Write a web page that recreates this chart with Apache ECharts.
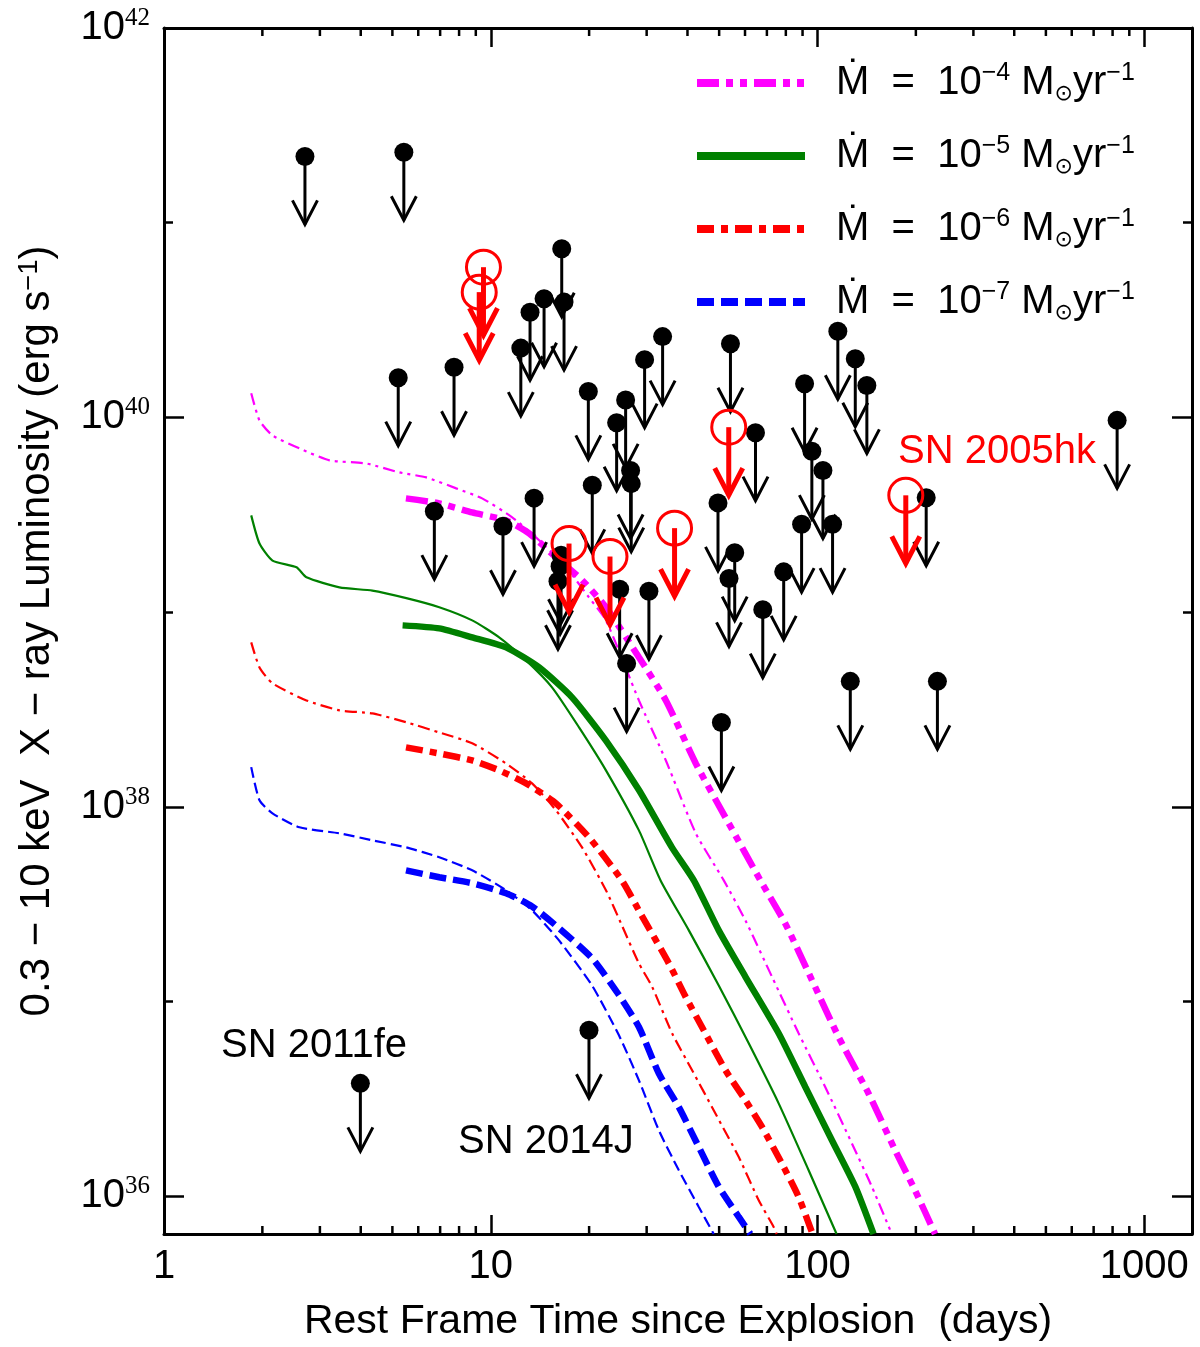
<!DOCTYPE html>
<html><head><meta charset="utf-8">
<script src="https://cdn.jsdelivr.net/npm/echarts@6/dist/echarts.min.js"></script>
<style>html,body{margin:0;padding:0;background:#fff}#c{width:1200px;height:1347px}</style>
</head><body><div id="c"></div>
<script>
// ---------------- data ----------------
const xRange = [1, 1400];
const yRange = [6.4e35, 1e42];
const xTickLabels = ['1', '10', '100', '1000'];
const xMinorTicks = [2, 3, 4, 5, 6, 7, 8, 9, 20, 30, 40, 50, 60, 70, 80, 90, 200, 300, 400, 500, 600, 700, 800, 900];
const yTickExponents = [36, 38, 40, 42];
const rateExponents = ['−4', '−5', '−6', '−7'];

// black upper limits (days, erg/s)
const limitDays = [2.70, 5.42, 5.21, 7.72, 6.72, 10.9, 13.57, 12.36, 13.19, 14.56, 16.49, 16.76, 19.89, 20.45, 24.28, 25.87, 26.79, 26.91, 29.57, 33.57, 16.41, 16.30, 16.06, 24.8, 30.48, 26.05, 54.15, 115.4, 130.5, 141.6, 91.3, 64.6, 96.1, 103.9, 49.6, 89.4, 111.2, 215.1, 55.8, 53.6, 78.8, 68.0, 126, 232.8, 50.8, 826, 3.99, 19.98];
const limitLum = [2.19e41, 2.30e41, 1.60e40, 1.81e40, 3.30e39, 2.76e39, 3.85e39, 2.27e40, 3.47e40, 4.07e40, 7.35e40, 3.91e40, 1.36e40, 4.48e39, 9.39e39, 1.23e40, 5.34e39, 4.57e39, 1.98e40, 2.60e40, 1.96e39, 1.72e39, 1.44e39, 1.31e39, 1.28e39, 5.44e38, 2.39e40, 2.77e40, 2.00e40, 1.46e40, 1.49e40, 8.35e39, 6.71e39, 5.34e39, 3.64e39, 2.83e39, 2.83e39, 3.87e39, 2.02e39, 1.49e39, 1.61e39, 1.03e39, 4.41e38, 4.41e38, 2.71e38, 9.66e39, 3.80e36, 7.12e36];

// SN 2005hk upper limits (red)
const hkDays = [9.50, 9.22, 17.36, 23.17, 36.52, 53.5, 186.3];
const hkLum = [5.91e40, 4.40e40, 2.25e39, 1.93e39, 2.70e39, 8.91e39, 3.98e39];

// model curves [days, erg/s]
const m4Thin = [[1.849,1.33e40],[1.960,9.65e39],[2.148,8.08e39],[2.598,6.93e39],[3.21,6.02e39],[4.16,5.80e39],[5.25,5.22e39],[6.35,4.92e39],[7.84,4.32e39],[9.41,3.84e39],[11.63,3.07e39],[14.06,2.34e39],[17.00,1.70e39],[19.98,1.19e39],[22.52,9.07e38],[28.41,3.52e38],[34.35,1.73e38],[42.42,7.31e37],[51.66,4.19e37],[60.18,2.61e37],[72.56,1.34e37],[87.54,6.87e36],[105.6,3.64e36],[127.4,1.87e36],[146.7,1.12e36],[168.8,6.4e35]];
const m4Thick = [[5.50,3.84e39],[6.96,3.62e39],[8.77,3.25e39],[11.14,2.96e39],[13.10,2.54e39],[15.84,1.91e39],[19.03,1.46e39],[22.52,1.06e39],[28.41,5.86e38],[34.35,3.52e38],[42.42,1.67e38],[53.5,8.23e37],[66.87,4.19e37],[79.73,2.51e37],[96.15,1.29e37],[116.0,6.58e36],[143.3,3.37e36],[172.9,1.72e36],[199.0,1.07e36],[229.0,6.4e35]];
const m5Thin = [[1.849,3.14e39],[1.960,2.25e39],[2.148,1.84e39],[2.544,1.70e39],[2.729,1.51e39],[3.443,1.34e39],[4.341,1.29e39],[5.515,1.18e39],[6.957,1.06e39],[8.774,9.07e38],[10.61,7.42e38],[12.83,5.65e38],[15.40,4.11e38],[18.63,2.56e38],[22.52,1.54e38],[28.41,7.57e37],[33.09,4.19e37],[40.39,2.32e37],[49.86,1.21e37],[61.59,6.10e36],[76.05,3.00e36],[93.94,1.36e36],[114.4,6.4e35]];
const m5Thick = [[5.373,8.55e38],[6.957,8.25e38],[8.774,7.42e38],[11.14,6.59e38],[14.06,5.20e38],[17.73,3.65e38],[22.52,2.19e38],[28.41,1.22e38],[35.84,6.19e37],[41.83,4.19e37],[49.86,2.32e37],[60.18,1.34e37],[76.05,6.87e36],[91.78,3.64e36],[110.7,1.94e36],[130.5,1.12e36],[148.4,6.4e35]];
const m6Thin = [[1.849,6.99e38],[1.960,5.20e38],[2.148,4.31e38],[2.729,3.52e38],[3.443,3.13e38],[4.341,3.02e38],[5.515,2.72e38],[6.957,2.41e38],[8.774,2.12e38],[11.14,1.67e38],[13.38,1.32e38],[15.84,9.59e37],[19.03,6.19e37],[22.52,3.73e37],[25.20,2.46e37],[28.41,1.57e37],[31.19,1.19e37],[35.92,6.85e36],[41.33,4.44e36],[48.71,2.66e36],[57.42,1.59e36],[66.07,9.54e35],[73.42,6.96e35],[75.0,6.4e35]];
const m6Thick = [[5.503,2.02e38],[6.957,1.88e38],[8.774,1.73e38],[10.61,1.54e38],[12.83,1.32e38],[15.84,1.04e38],[19.98,6.97e37],[25.20,4.19e37],[28.75,2.83e37],[35.09,1.57e37],[39.46,1.06e37],[45.41,6.85e36],[52.28,4.44e36],[60.18,3.11e36],[67.63,2.27e36],[77.84,1.47e36],[87.54,9.92e35],[96.61,6.4e35]];
const m7Thin = [[1.849,1.60e38],[1.960,1.08e38],[2.148,9.26e37],[2.598,7.85e37],[3.443,7.31e37],[4.341,6.73e37],[5.515,6.19e37],[6.957,5.51e37],[8.774,4.72e37],[11.14,3.73e37],[13.38,2.94e37],[16.18,2.06e37],[20.41,1.21e37],[24.68,6.71e36],[28.41,3.94e36],[32.70,2.18e36],[37.64,1.36e36],[43.32,8.81e35],[48.13,6.4e35]];
const m7Thick = [[5.503,4.72e37],[6.957,4.35e37],[8.774,4.05e37],[11.14,3.60e37],[13.38,3.08e37],[16.18,2.38e37],[20.41,1.67e37],[24.68,1.08e37],[28.41,7.40e36],[32.70,4.27e36],[37.64,2.87e36],[43.32,1.79e36],[49.86,1.12e36],[57.42,7.83e35],[62.33,6.4e35]];

// ---------------- styling ----------------
const FONT = "'Liberation Sans', 'DejaVu Sans', Arial, sans-serif";
const SERIF = "'Liberation Serif', 'DejaVu Serif', serif";
const BLACK = '#000000';

const curves = [
  { key: 'r4', color: '#ff00ff', thin: m4Thin, thick: m4Thick, thinDash: [12, 5, 3, 5, 3, 5], thickDash: [22, 7, 7, 7, 7, 7] },
  { key: 'r5', color: '#008000', thin: m5Thin, thick: m5Thick, thinDash: 'solid', thickDash: 'solid' },
  { key: 'r6', color: '#ff0000', thin: m6Thin, thick: m6Thick, thinDash: [12, 5, 3, 5], thickDash: [17, 7, 7, 7] },
  { key: 'r7', color: '#0000ff', thin: m7Thin, thick: m7Thick, thinDash: [11, 5], thickDash: [17, 7] }
];

function isPow10(v) { const e = Math.log10(v); return Math.abs(e - Math.round(e)) < 1e-6; }

function makeLimit(color, hollow) {
  return function (params, api) {
    const p = api.coord([api.value(0), api.value(1)]);
    const L = 68;
    const hw = hollow ? 14 : 12.5, hh = hollow ? 27 : 24, lw = hollow ? 5 : 3;
    const children = [
      { type: 'line', shape: { x1: p[0], y1: p[1], x2: p[0], y2: p[1] + L }, style: { stroke: color, lineWidth: lw, fill: 'none' } },
      { type: 'polyline', shape: { points: [[p[0] - hw, p[1] + L - hh], [p[0], p[1] + L], [p[0] + hw, p[1] + L - hh]] }, style: { stroke: color, lineWidth: lw, fill: 'none', lineJoin: 'miter' } },
      hollow
        ? { type: 'circle', shape: { cx: p[0], cy: p[1], r: 17 }, style: { stroke: color, lineWidth: 3, fill: 'none' } }
        : { type: 'circle', shape: { cx: p[0], cy: p[1], r: 9.5 }, style: { fill: color, stroke: 'none' } }
    ];
    return { type: 'group', children };
  };
}

// minor ticks of the log x-axis (bottom and top), placed through the axis scale
function renderMinorTick(params, api) {
  const cs = params.coordSys;
  const p = api.coord([api.value(0), yRange[0]]);
  const yb = cs.y + cs.height, yt = cs.y, len = 8;
  return { type: 'group', children: [
    { type: 'line', shape: { x1: p[0], y1: yb, x2: p[0], y2: yb - len }, style: { stroke: BLACK, lineWidth: 2.5 } },
    { type: 'line', shape: { x1: p[0], y1: yt, x2: p[0], y2: yt + len }, style: { stroke: BLACK, lineWidth: 2.5 } }
  ] };
}

const series = [];
curves.forEach(c => {
  series.push({ type: 'line', name: c.key + '-thin', data: c.thin, xAxisIndex: 0, yAxisIndex: 0, showSymbol: false, symbol: 'none', clip: true, silent: true, z: 2,
    smooth: 0.2, lineStyle: { color: c.color, width: 2.2, type: c.thinDash } , itemStyle: { color: c.color } });
  series.push({ type: 'line', name: c.key, data: c.thick, xAxisIndex: 0, yAxisIndex: 0, showSymbol: false, symbol: 'none', clip: true, silent: true, z: 3,
    smooth: 0.2, lineStyle: { color: c.color, width: 6.5, type: c.thickDash }, itemStyle: { color: c.color } });
});
series.push({ type: 'custom', name: 'minorTicks', xAxisIndex: 0, yAxisIndex: 0, z: 10, silent: true,
  data: xMinorTicks.map(v => [v]), renderItem: renderMinorTick, itemStyle: { color: BLACK } });
series.push({ type: 'custom', name: 'limits', xAxisIndex: 0, yAxisIndex: 0, z: 5, silent: true,
  data: limitDays.map((d, i) => [d, limitLum[i]]), renderItem: makeLimit(BLACK, false), itemStyle: { color: BLACK } });
series.push({ type: 'custom', name: 'SN2005hk', xAxisIndex: 0, yAxisIndex: 0, z: 6, silent: true,
  data: hkDays.map((d, i) => [d, hkLum[i]]), renderItem: makeLimit('#ff0000', true), itemStyle: { color: '#ff0000' } });

const axisLine = { show: true, lineStyle: { color: BLACK, width: 3 } };
function xAx(pos, labels) {
  return {
    type: 'log', logBase: 10, position: pos, min: xRange[0], max: xRange[1],
    axisLine: axisLine, splitLine: { show: false }, minorSplitLine: { show: false },
    axisTick: { show: true, inside: true, length: 19, lineStyle: { color: BLACK, width: 2.5 } },
    minorTick: { show: false },
    axisLabel: labels ? {
      show: true, margin: 13, color: BLACK, fontFamily: FONT, fontSize: 40,
      formatter: v => { if (!isPow10(v)) return ''; const e = Math.round(Math.log10(v)); return xTickLabels[e] || ''; }
    } : { show: false },
    name: labels ? 'Rest Frame Time since Explosion  (days)' : '',
    nameLocation: 'middle', nameGap: 67,
    nameTextStyle: { fontFamily: FONT, fontSize: 41, color: BLACK }
  };
}
function yAx(pos, base, len, labels, line) {
  return {
    type: 'log', logBase: base, position: pos, min: yRange[0], max: yRange[1],
    axisLine: line ? axisLine : { show: false }, splitLine: { show: false },
    axisTick: { show: true, inside: true, length: len, lineStyle: { color: BLACK, width: 2.5 } },
    axisLabel: labels ? {
      show: true, margin: 14, color: BLACK,
      formatter: v => { if (!isPow10(v)) return ''; const e = Math.round(Math.log10(v)); return yTickExponents.indexOf(e) >= 0 ? '{b|10}{s|' + e + '}' : ''; },
      rich: {
        b: { fontFamily: FONT, fontSize: 40, lineHeight: 44, color: BLACK },
        s: { fontFamily: SERIF, fontSize: 25, lineHeight: 20, verticalAlign: 'top', color: BLACK }
      }
    } : { show: false },
    name: labels ? '0.3 − 10 keV  X − ray Luminosity (erg s{s|−1})' : '',
    nameLocation: 'middle', nameGap: 106,
    nameTextStyle: { fontFamily: FONT, fontSize: 42, color: BLACK,
      rich: { s: { fontFamily: FONT, fontSize: 27, lineHeight: 22, verticalAlign: 'top', color: BLACK } } }
  };
}

const legendRich = {
  t: { fontFamily: FONT, fontSize: 40, lineHeight: 44, color: BLACK },
  s: { fontFamily: FONT, fontSize: 25, lineHeight: 20, verticalAlign: 'top', color: BLACK },
  u: { fontFamily: 'DejaVu Sans', fontSize: 22, lineHeight: 30, verticalAlign: 'bottom', color: BLACK }
};

const option = {
  animation: false,
  backgroundColor: '#ffffff',
  textStyle: { fontFamily: FONT },
  grid: { left: 164, right: 8, top: 28, bottom: 113, containLabel: false, outerBoundsMode: 'none' },
  legend: {
    show: true, orient: 'vertical', left: 688, top: 56, itemWidth: 108, itemHeight: 40, itemGap: 29,
    selectedMode: false,
    data: curves.map(c => ({ name: c.key, lineStyle: { width: 8 }, itemStyle: { opacity: 0 } })),
    formatter: name => {
      const i = curves.findIndex(c => c.key === name);
      return '{t|Ṁ  =  10}{s|' + rateExponents[i] + '}{t| M}{u|⊙}{t|yr}{s|−1}';
    },
    textStyle: { color: BLACK, fontFamily: FONT, fontSize: 40, padding: [0, 0, 0, 26], rich: legendRich }
  },
  xAxis: [xAx('bottom', true), xAx('top', false)],
  yAxis: [yAx('left', 100, 20, true, true), yAx('left', 10, 9, false, false), yAx('right', 100, 20, false, true), yAx('right', 10, 9, false, false)],
  graphic: [
    { type: 'text', left: 898, top: 432, style: { text: 'SN 2005hk', fill: '#ff0000', font: '40px ' + FONT } },
    { type: 'text', left: 221, top: 1026, style: { text: 'SN 2011fe', fill: BLACK, font: '40px ' + FONT } },
    { type: 'text', left: 458, top: 1122, style: { text: 'SN 2014J', fill: BLACK, font: '40px ' + FONT } }
  ],
  series: series
};

const chart = echarts.init(document.getElementById('c'), null, { renderer: 'canvas' });
chart.setOption(option);
</script>
</body></html>
